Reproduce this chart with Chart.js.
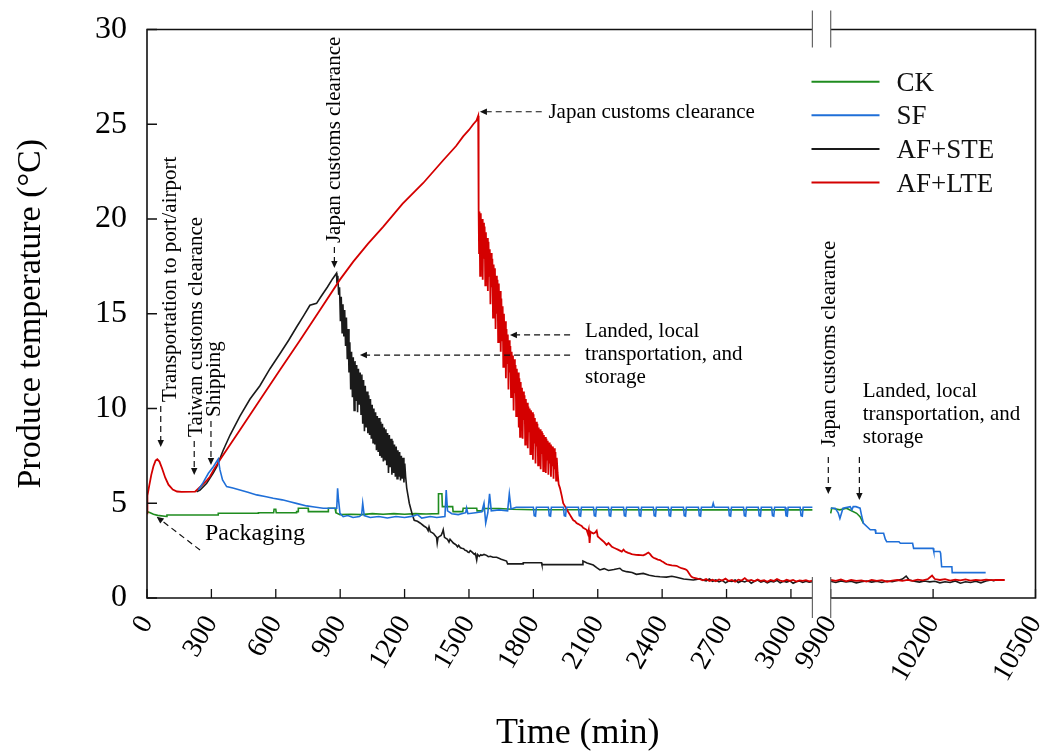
<!DOCTYPE html>
<html><head><meta charset="utf-8">
<script src="https://cdn.jsdelivr.net/npm/chart.js@4.4.1/dist/chart.umd.min.js"></script>
<style>html,body{margin:0;padding:0;background:#fff;}canvas{display:block;}</style>
</head><body>
<canvas id="c" width="1046" height="752"></canvas>
<script>
// ---------- data (time in min, temperature in °C) ----------
const xTicks = [0,300,600,900,1200,1500,1800,2100,2400,2700,3000,9900,10200,10500];
const seriesLabels = ['CK','SF','AF+STE','AF+LTE'];

const ckData = [[0,4.56],[15,4.5],[30,4.42],[50,4.36],[92,4.3],[93,4.38],[331,4.38],[332,4.47],[518,4.47],[519,4.5],[590,4.5],[592,4.68],[600,4.68],[602,4.5],[696,4.5],[697,4.56],[704,4.56],[705,4.74],[751,4.74],[752,4.56],[844,4.56],[845,4.74],[876,4.74],[880,4.5],[899,4.4],[950,4.42],[1000,4.4],[1050,4.45],[1100,4.42],[1150,4.45],[1200,4.42],[1250,4.45],[1300,4.43],[1356,4.45],[1358,5.5],[1374,5.5],[1376,4.82],[1424,4.82],[1426,4.56],[1471,4.56],[1473,4.74],[1536,4.74],[1538,4.6],[1564,4.6],[1566,4.72],[1640,4.72],[1700,4.68],[1800,4.66],[2000,4.66],[2500,4.65],[3100,4.65],[5000,null],[9898,4.47],[9903,4.74],[9927,4.65],[9946,4.74],[9976,4.47],[9986,4.29],[9996,3.94]];

const sfData = [[239,5.7],[262,6.1],[286,6.58],[309,6.93],[332,7.34],[340,6.76],[352,6.23],[371,5.88],[400,5.8],[433,5.7],[470,5.58],[511,5.44],[550,5.36],[588,5.26],[630,5.18],[666,5.08],[700,4.98],[744,4.86],[780,4.8],[821,4.74],[884,4.74],[888,5.79],[892,5.2],[899,4.47],[914,4.29],[935,4.35],[960,4.25],[990,4.3],[1000,4.4],[1005,5.0],[1012,4.35],[1040,4.25],[1080,4.3],[1120,4.22],[1160,4.3],[1200,4.25],[1240,4.32],[1260,4.4],[1280,4.22],[1320,4.3],[1350,4.25],[1388,4.3],[1394,5.7],[1400,4.6],[1420,4.45],[1450,4.4],[1485,4.5],[1489,4.75],[1495,4.45],[1530,4.5],[1560,4.55],[1570,5.0],[1578,3.96],[1588,4.5],[1596,5.5],[1604,4.6],[1640,4.65],[1680,4.6],[1688,5.5],[1696,4.7],[1720,4.79],
[1800,4.79],[1804,4.34],[1810,4.32],[1814,4.79],
[1870,4.79],[1874,4.34],[1880,4.32],[1884,4.79],
[1940,4.79],[1944,4.34],[1950,4.32],[1954,4.79],
[2010,4.79],[2014,4.34],[2020,4.32],[2024,4.79],
[2080,4.79],[2084,4.34],[2090,4.32],[2094,4.79],
[2150,4.79],[2154,4.34],[2160,4.32],[2164,4.79],
[2220,4.79],[2224,4.34],[2230,4.32],[2234,4.79],
[2290,4.79],[2294,4.34],[2300,4.32],[2304,4.79],
[2359,4.79],[2363,4.34],[2369,4.32],[2373,4.79],
[2429,4.79],[2433,4.34],[2439,4.32],[2443,4.79],
[2499,4.79],[2503,4.34],[2509,4.32],[2513,4.79],
[2569,4.79],[2573,4.34],[2579,4.32],[2583,4.79],
[2633,4.79],[2638,5.0],[2643,4.79],
[2709,4.79],[2713,4.34],[2719,4.32],[2723,4.79],
[2779,4.79],[2783,4.34],[2789,4.32],[2793,4.79],
[2848,4.79],[2852,4.34],[2858,4.32],[2862,4.79],
[2910,4.79],[2914,4.34],[2920,4.32],[2924,4.79],
[2973,4.79],[2977,4.34],[2983,4.32],[2987,4.79],
[3043,4.79],[3047,4.34],[3053,4.32],[3057,4.79],
[3100,4.79],[5000,null],
[9898,4.74],[9913,4.74],[9922,4.5],[9927,4.2],[9932,4.5],[9936,4.74],[9957,4.82],[9962,4.65],[9966,4.82],[9974,4.82],[9986,4.74],[9990,4.4],[9996,3.94],[10016,3.6],[10030,3.6],[10032,3.42],[10055,3.42],[10060,3.1],[10064,2.97],[10100,2.97],[10104,2.89],[10140,2.89],[10143,2.62],[10200,2.62],[10202,2.45],[10220,2.45],[10222,2.36],[10225,1.65],[10255,1.65],[10256,1.34],[10354,1.34]];

const steData = [[231,5.6],[247,5.7],[278,6.05],[309,6.6],[325,6.93],[355,7.8],[387,8.6],[433,9.6],[480,10.5],[526,11.2],[573,12.1],[620,12.9],[660,13.6],[697,14.3],[730,14.9],[759,15.45],[790,15.55],[810,15.9],[840,16.4],[865,16.85],[883,17.14],
[885,16.6],[889,17.0],[893,16.0],[897,16.4],[901,14.6],[905,15.9],[909,14.0],[913,15.5],[917,13.8],[921,15.2],[925,13.3],[929,14.8],[933,12.6],[937,14.2],[941,11.9],[945,13.5],[949,11.0],[953,13.0],[957,10.6],[961,12.7],[965,9.9],[969,12.5],[973,10.4],[977,12.3],[981,9.8],[985,12.1],[989,10.2],[993,11.9],[997,9.7],[1001,11.8],[1005,9.2],[1009,11.5],[1013,8.8],[1017,11.2],[1021,9.0],[1025,10.9],[1029,8.7],[1033,10.7],[1037,8.6],[1041,10.5],[1045,8.4],[1049,10.2],[1053,8.2],[1057,10.0],[1061,8.1],[1065,9.8],[1069,7.8],[1073,9.6],[1077,7.7],[1081,9.5],[1085,7.5],[1089,9.3],[1093,7.4],[1097,9.2],[1101,7.2],[1105,9.0],[1109,7.3],[1113,8.9],[1117,7.0],[1121,8.7],[1125,6.6],[1129,8.6],[1133,6.9],[1137,8.4],[1141,6.5],[1145,8.3],[1149,6.6],[1153,8.1],[1157,6.4],[1161,8.0],[1165,6.3],[1169,7.8],[1173,6.4],[1177,7.7],[1181,6.2],[1185,7.5],[1189,6.3],[1193,7.4],[1197,6.1],[1201,7.1],[1205,6.4],[1210,5.8],[1216,5.4],[1222,5.0],[1229,4.7],[1236,4.4],[1245,4.1],
[1260,4.05],[1272,3.96],[1290,3.8],[1303,3.7],[1310,3.55],[1314,3.75],[1320,3.5],[1328,3.45],[1335,3.4],[1342,3.3],[1349,3.2],[1352,2.9],[1356,3.2],[1363,3.25],[1370,3.3],[1376,3.45],[1380,3.6],[1386,3.2],[1393,3.15],[1400,3.1],[1407,2.95],[1412,3.1],[1420,3.0],[1427,2.9],[1434,2.85],[1440,2.8],[1447,2.7],[1452,2.78],[1460,2.65],[1467,2.62],[1475,2.6],[1482,2.52],[1489,2.5],[1495,2.42],[1500,2.4],[1506,2.5],[1512,2.45],[1518,2.38],[1525,2.3],[1530,2.35],[1536,2.0],[1540,2.3],[1548,2.2],[1555,2.28],[1560,2.25],[1570,2.3],[1582,2.25],[1590,2.18],[1600,2.2],[1612,2.15],[1629,2.15],[1650,2.05],[1675,1.95],[1680,1.8],[1752,1.8],[1753,1.86],[1838,1.86],[1840,1.76],[2029,1.76],[2031,1.95],[2050,1.85],[2079,1.74],[2095,1.6],[2110,1.48],[2130,1.55],[2150,1.45],[2175,1.5],[2203,1.57],[2215,1.45],[2234,1.39],[2260,1.35],[2280,1.25],[2312,1.3],[2340,1.2],[2365,1.15],[2390,1.12],[2420,1.1],[2445,1.15],[2467,1.1],[2500,1.0],[2545,0.95],
[2560,0.98],[2576,1.02],[2590,0.95],[2605,0.9],[2620,1.0],[2635,0.88],[2650,0.95],[2665,0.85],[2680,0.93],[2695,0.8],[2710,0.9],[2725,0.87],[2740,0.95],[2755,0.82],[2770,0.9],[2785,0.85],[2800,0.93],[2815,0.78],[2830,0.88],[2845,0.95],[2860,0.84],[2875,0.9],[2890,0.8],[2905,0.88],[2920,0.85],[2935,0.93],[2950,0.8],[2965,0.88],[2980,0.84],[2995,0.9],[3010,0.78],[3025,0.86],[3040,0.9],[3055,0.82],[3070,0.88],[3085,0.84],[3100,0.86],[5000,null],
[9900,0.88],[9915,0.82],[9930,0.9],[9945,0.85],[9960,0.88],[9975,0.8],[9990,0.86],[10005,0.9],[10020,0.84],[10035,0.88],[10050,0.82],[10065,0.9],[10080,0.86],[10095,0.92],[10110,1.0],[10121,1.16],[10130,0.95],[10145,0.88],[10160,0.84],[10175,0.9],[10190,0.85],[10205,0.88],[10220,0.8],[10235,0.86],[10250,0.82],[10265,0.9],[10280,0.78],[10295,0.86],[10310,0.82],[10325,0.88],[10340,0.8],[10355,0.9],[10370,0.95],[10380,0.9]];

const lteData = [[0,4.47],[2,5.4],[10,5.9],[20,6.5],[30,6.95],[40,7.25],[48,7.32],[58,7.2],[70,6.85],[85,6.35],[100,5.98],[120,5.72],[140,5.62],[161,5.6],[224,5.61],[240,5.78],[260,6.0],[280,6.22],[293,6.4],[310,6.75],[325,7.02],[340,7.29],[433,8.87],[526,10.45],[620,12.04],[713,13.6],[806,15.2],[899,16.8],[961,17.75],[1030,18.7],[1101,19.6],[1190,20.8],[1287,21.9],[1380,23.1],[1440,23.85],[1473,24.36],[1500,24.7],[1520,25.0],[1535,25.2],[1543,25.45],[1545,20.5],
[1547,18.2],[1549,20.4],[1552,17.0],[1555,20.3],[1558,17.6],[1561,20.0],[1564,16.8],[1567,19.8],[1570,17.9],[1573,19.6],[1576,16.5],[1579,19.3],[1582,16.9],[1585,19.0],[1588,16.2],[1591,18.8],[1594,17.0],[1597,18.4],[1600,15.5],[1603,18.2],[1606,16.4],[1609,17.9],[1612,14.8],[1615,17.6],[1618,15.6],[1621,17.4],[1624,14.2],[1627,17.0],[1630,15.0],[1633,16.8],[1636,13.5],[1639,16.6],[1642,14.4],[1645,16.2],[1648,13.0],[1651,15.8],[1654,13.6],[1657,15.4],[1660,12.2],[1663,15.0],[1666,13.0],[1669,14.6],[1672,11.6],[1675,14.2],[1678,12.4],[1681,13.9],[1684,11.0],[1687,13.6],[1690,11.9],[1693,13.3],[1696,10.6],[1699,13.0],[1702,11.4],[1705,12.8],[1708,9.9],[1711,12.6],[1714,10.8],[1717,12.3],[1720,9.6],[1723,12.1],[1726,10.5],[1729,11.9],[1732,9.0],[1735,11.6],[1738,8.5],[1741,11.4],[1744,9.8],[1747,11.1],[1750,8.4],[1753,10.9],[1756,9.4],[1759,10.7],[1762,8.1],[1765,10.5],[1768,9.0],[1771,10.3],[1774,7.9],[1777,10.1],[1780,8.8],[1783,10.0],[1786,7.6],[1789,9.9],[1792,8.5],[1795,9.8],[1798,7.3],[1801,9.7],[1804,8.2],[1807,9.5],[1810,7.1],[1813,9.3],[1816,8.0],[1819,9.2],[1822,7.0],[1825,9.0],[1828,7.8],[1831,8.9],[1834,6.8],[1837,8.8],[1840,7.6],[1843,8.7],[1846,6.7],[1849,8.6],[1852,7.4],[1855,8.5],[1858,6.6],[1861,8.4],[1864,7.3],[1867,8.3],[1870,6.5],[1873,8.2],[1876,7.1],[1879,8.1],[1882,6.4],[1885,8.0],[1888,7.0],[1891,8.0],[1894,6.3],[1897,7.9],[1900,6.8],[1903,7.7],[1906,6.2],[1909,7.4],[1913,6.6],[1918,6.0],
[1924,5.8],[1932,5.4],[1939,5.0],[1947,4.85],[1955,4.7],[1962,4.55],[1970,4.4],[1978,4.25],[1986,4.1],[1994,4.05],[2001,3.95],[2010,3.9],[2017,3.85],[2025,3.8],[2032,3.7],[2040,3.65],[2048,3.6],[2054,3.4],[2058,3.6],[2062,2.9],[2066,3.5],[2072,3.45],[2080,3.4],[2088,3.45],[2095,3.55],[2100,3.25],[2110,3.15],[2120,3.05],[2130,2.95],[2141,2.8],[2150,2.9],[2157,2.82],[2166,2.7],[2175,2.65],[2185,2.6],[2194,2.55],[2203,2.5],[2212,2.45],[2220,2.55],[2228,2.45],[2234,2.42],[2242,2.38],[2250,2.35],[2258,2.32],[2265,2.3],[2278,2.28],[2290,2.27],[2300,2.26],[2312,2.25],[2322,2.3],[2330,2.36],[2336,2.4],[2343,2.33],[2352,2.2],[2360,2.12],[2370,2.08],[2380,2.03],[2390,2.0],[2398,1.94],[2405,1.9],[2413,1.84],[2421,1.78],[2433,1.75],[2445,1.72],[2456,1.71],[2467,1.7],[2480,1.62],[2490,1.57],[2498,1.55],[2506,1.52],[2514,1.48],[2520,1.4],[2525,1.3],[2531,1.2],[2537,1.12],[2545,1.08],[2555,1.05],[2565,1.02],[2576,0.99],
[2590,0.93],[2605,1.0],[2620,0.9],[2635,0.96],[2650,0.88],[2665,0.98],[2680,0.92],[2695,1.02],[2710,0.9],[2725,0.95],[2740,0.86],[2755,0.97],[2770,0.92],[2785,1.05],[2800,0.9],[2815,0.95],[2830,0.88],[2845,0.98],[2860,0.9],[2875,0.94],[2890,0.86],[2905,0.95],[2920,0.9],[2935,1.0],[2950,0.92],[2965,0.88],[2980,0.96],[2995,0.9],[3010,0.95],[3025,0.87],[3040,0.93],[3055,0.9],[3070,0.94],[3085,0.88],[3100,0.92],[5000,null],
[9900,0.95],[9915,0.9],[9930,0.98],[9945,0.88],[9960,0.95],[9975,0.9],[9990,0.93],[10005,0.87],[10020,0.95],[10035,0.9],[10050,0.94],[10065,0.86],[10080,0.92],[10095,0.95],[10110,0.9],[10125,0.96],[10140,0.9],[10155,0.97],[10170,0.93],[10185,1.0],[10197,1.18],[10205,1.0],[10220,0.95],[10235,1.0],[10250,0.92],[10265,0.97],[10280,0.93],[10295,0.98],[10310,0.92],[10325,0.96],[10340,0.93],[10355,0.97],[10370,0.94],[10385,0.96],[10400,0.95],[10410,0.95]];

// ---------- annotations (data coordinates: minutes, °C) ----------
const rotNotes = [
  {text:'Transportation to port/airport', t:137, v:10.34},
  {text:'Taiwan customs clearance', t:254, v:8.5},
  {text:'Shipping', t:338, v:9.55},
  {text:'Japan customs clearance', t:901, v:18.73},
  {text:'Japan customs clearance', t:9913, v:7.97}
];
const flatNotes = [
  {lines:['Japan customs clearance'], t:1870, v:25.33, size:21},
  {lines:['Landed, local','transportation, and','storage'], t:2041, v:13.79, size:21},
  {lines:['Landed, local','transportation, and','storage'], t:9994, v:10.62, size:21},
  {lines:['Packaging'], t:270, v:3.06, size:24}
];
const arrows = [
  {from:[64,10.13], to:[64,7.97]},
  {from:[220,8.28], to:[220,6.49]},
  {from:[298,9.34], to:[298,7.02]},
  {from:[873,18.52], to:[873,17.41]},
  {from:[1839,25.66], to:[1551,25.66]},
  {from:[1971,13.88], to:[1691,13.88]},
  {from:[1971,12.82], to:[992,12.82]},
  {from:[9008,7.44], to:[9008,5.49]},
  {from:[9984,7.44], to:[9984,5.17]},
  {from:[247,2.53], to:[45,4.29]}
];

// ---------- broken time axis ----------
const X_MIN = 0, BREAK_FROM = 3100, BREAK_TO = 9900, X_MAX = 10500;
const LEFT_SHARE = 0.7489, RIGHT_START = 0.7695;
const FONT = "'Liberation Serif','Times New Roman',serif";
const COLORS = ['#1f8c1f','#1f6fd8','#1a1a1a','#d40000'];

const { LinearScale } = Chart;
class BrokenTimeScale extends LinearScale {
  getPixelForValue(value) {
    if (value === null || value === undefined || Number.isNaN(value)) return NaN;
    let d;
    if (value <= BREAK_FROM) d = (value - X_MIN) / (BREAK_FROM - X_MIN) * LEFT_SHARE;
    else if (value >= BREAK_TO) d = RIGHT_START + (value - BREAK_TO) / (X_MAX - BREAK_TO) * (1 - RIGHT_START);
    else d = LEFT_SHARE + (value - BREAK_FROM) / (BREAK_TO - BREAK_FROM) * (RIGHT_START - LEFT_SHARE);
    return this.getPixelForDecimal(d);
  }
  getValueForPixel(pixel) {
    const d = this.getDecimalForPixel(pixel);
    if (d <= LEFT_SHARE) return X_MIN + d / LEFT_SHARE * (BREAK_FROM - X_MIN);
    if (d >= RIGHT_START) return BREAK_TO + (d - RIGHT_START) / (1 - RIGHT_START) * (X_MAX - BREAK_TO);
    return BREAK_FROM + (d - LEFT_SHARE) / (RIGHT_START - LEFT_SHARE) * (BREAK_TO - BREAK_FROM);
  }
}
BrokenTimeScale.id = 'brokenTime';
BrokenTimeScale.defaults = LinearScale.defaults;
Chart.register(BrokenTimeScale);

function toPoints(arr){ return arr.map(p => ({x:p[0], y:p[1]})); }

function drawArrow(ctx, x1, y1, x2, y2) {
  const ang = Math.atan2(y2 - y1, x2 - x1);
  const L = 7, W = 3.2;
  const bx = x2 - L * Math.cos(ang), by = y2 - L * Math.sin(ang);
  ctx.setLineDash([6, 4]);
  ctx.beginPath(); ctx.moveTo(x1, y1); ctx.lineTo(bx, by); ctx.stroke();
  ctx.setLineDash([]);
  ctx.beginPath();
  ctx.moveTo(x2, y2);
  ctx.lineTo(bx - W * Math.sin(ang), by + W * Math.cos(ang));
  ctx.lineTo(bx + W * Math.sin(ang), by - W * Math.cos(ang));
  ctx.closePath(); ctx.fill();
}

const framePlugin = {
  id: 'frame',
  afterDatasetsDraw(chart) {
    const {ctx, chartArea: a, scales: {x, y}} = chart;
    const g1 = x.getPixelForValue(BREAK_FROM), g2 = x.getPixelForValue(BREAK_TO);
    ctx.save();
    ctx.strokeStyle = '#111'; ctx.lineWidth = 1.6;
    ctx.beginPath();
    ctx.moveTo(g1, a.top); ctx.lineTo(a.left, a.top); ctx.lineTo(a.left, a.bottom); ctx.lineTo(g1, a.bottom);
    ctx.moveTo(g2, a.top); ctx.lineTo(a.right, a.top); ctx.lineTo(a.right, a.bottom); ctx.lineTo(g2, a.bottom);
    ctx.stroke();
    ctx.lineWidth = 1.3;
    ctx.beginPath();
    x.ticks.forEach(t => { const px = x.getPixelForValue(t.value); ctx.moveTo(px, a.bottom); ctx.lineTo(px, a.bottom - 9); });
    y.ticks.forEach(t => { const py = y.getPixelForValue(t.value); ctx.moveTo(a.left, py); ctx.lineTo(a.left + 10, py); });
    ctx.stroke();
    ctx.strokeStyle = '#666'; ctx.lineWidth = 1.2;
    ctx.beginPath();
    [g1, g2].forEach(px => {
      ctx.moveTo(px, a.top - 19); ctx.lineTo(px, a.top + 18);
      ctx.moveTo(px, a.bottom - 21); ctx.lineTo(px, a.bottom + 20);
    });
    ctx.stroke();
    ctx.restore();
  },
  afterDraw(chart) {
    const {ctx, chartArea: a, scales: {x, y}} = chart;
    ctx.save();
    ctx.fillStyle = '#111'; ctx.strokeStyle = '#111'; ctx.lineWidth = 1.2;
    arrows.forEach(ar => drawArrow(ctx, x.getPixelForValue(ar.from[0]), y.getPixelForValue(ar.from[1]), x.getPixelForValue(ar.to[0]), y.getPixelForValue(ar.to[1])));
    ctx.fillStyle = '#000';
    ctx.textBaseline = 'alphabetic';
    rotNotes.forEach(n => {
      ctx.save();
      ctx.translate(x.getPixelForValue(n.t), y.getPixelForValue(n.v));
      ctx.rotate(-Math.PI / 2);
      ctx.font = '21px ' + FONT; ctx.textAlign = 'left';
      ctx.fillText(n.text, 0, 0);
      ctx.restore();
    });
    flatNotes.forEach(n => {
      ctx.font = n.size + 'px ' + FONT; ctx.textAlign = 'left';
      const px = x.getPixelForValue(n.t), py = y.getPixelForValue(n.v);
      n.lines.forEach((ln, i) => ctx.fillText(ln, px, py + i * 23.3));
    });
    // legend
    chart.data.datasets.forEach((ds, i) => {
      const ly = a.top + 52.2 + i * 33.6;
      ctx.strokeStyle = ds.borderColor; ctx.lineWidth = 2;
      ctx.beginPath(); ctx.moveTo(a.right - 224, ly); ctx.lineTo(a.right - 156, ly); ctx.stroke();
      ctx.fillStyle = '#111'; ctx.font = '27px ' + FONT; ctx.textAlign = 'left';
      ctx.fillText(ds.label, a.right - 139, ly + 9);
    });
    ctx.restore();
  }
};

const datasets = [ckData, sfData, steData, lteData].map((d, i) => ({
  label: seriesLabels[i],
  data: toPoints(d),
  borderColor: COLORS[i],
  backgroundColor: COLORS[i],
  borderWidth: i === 3 ? 1.8 : 1.6,
  pointRadius: 0,
  tension: 0,
  spanGaps: false,
  order: [3, 0, 2, 1][i]
}));

Chart.defaults.font.family = FONT;
Chart.defaults.color = '#000';

new Chart(document.getElementById('c'), {
  type: 'line',
  data: { datasets },
  plugins: [framePlugin],
  options: {
    responsive: false,
    animation: false,
    devicePixelRatio: 1,
    parsing: true,
    layout: { autoPadding: false, padding: { left: 0, top: 29.5, right: 10.5, bottom: 0 } },
    plugins: { legend: { display: false }, tooltip: { enabled: false } },
    scales: {
      x: {
        type: 'brokenTime',
        min: X_MIN, max: X_MAX,
        grid: { display: false, drawTicks: false },
        border: { display: false },
        afterBuildTicks(s) { s.ticks = xTicks.map(v => ({ value: v })); },
        afterFit(s) { s.height = 154; s.paddingLeft = 0; s.paddingRight = 0; },
        ticks: {
          autoSkip: false, minRotation: 60, maxRotation: 60, padding: 12,
          font: { size: 28, family: FONT }, color: '#000',
          callback: v => String(v)
        },
        title: {
          display: true, text: 'Time (min)\u00a0\u00a0\u00a0',
          font: { size: 36, family: FONT, lineHeight: 1 }, padding: { top: 0, bottom: 0 }, color: '#000'
        }
      },
      y: {
        type: 'linear', min: 0, max: 30,
        grid: { display: false, drawTicks: false },
        border: { display: false },
        afterFit(s) { s.width = 147; s.paddingTop = 0; s.paddingBottom = 0; },
        ticks: { stepSize: 5, padding: 20, font: { size: 32, family: FONT }, color: '#000' },
        title: {
          display: true, text: 'Produce temperature (°C)',
          font: { size: 34, family: FONT, lineHeight: 1 }, padding: { top: 14, bottom: 0 }, color: '#000'
        }
      }
    }
  }
});
</script>
</body></html>
